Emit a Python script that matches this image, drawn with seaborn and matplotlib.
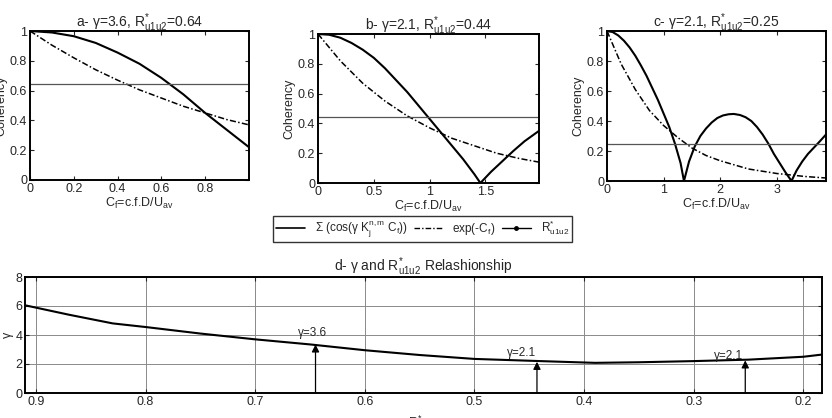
import matplotlib
matplotlib.use("Agg")
import matplotlib.pyplot as plt
import seaborn as sns
import pandas as pd
from matplotlib.lines import Line2D

# ---------------- data ----------------
a_cf_sum = [0.0, 0.1, 0.2, 0.3, 0.4, 0.5, 0.6, 0.7, 0.8, 0.9, 1.0]
a_sum = [1.0, 0.99, 0.965, 0.92, 0.855, 0.78, 0.685, 0.575, 0.45, 0.335, 0.22]
a_cf_exp = [0.0, 0.1, 0.2, 0.3, 0.4, 0.5, 0.6, 0.7, 0.8, 0.9, 1.0]
a_exp = [1.0, 0.905, 0.82, 0.74, 0.67, 0.605, 0.55, 0.495, 0.45, 0.405, 0.37]
a_r = 0.645

b_cf_sum = [0.0, 0.1, 0.2, 0.3, 0.4, 0.5, 0.6, 0.7, 0.8, 0.9, 1.0, 1.1, 1.2, 1.3, 1.4,
            1.455, 1.55, 1.65, 1.75, 1.85, 1.98]
b_sum = [1.0, 0.995, 0.975, 0.94, 0.895, 0.84, 0.77, 0.69, 0.61, 0.52, 0.43, 0.34, 0.25,
         0.16, 0.06, 0.0, 0.075, 0.145, 0.215, 0.28, 0.35]
b_cf_exp = [0.0, 0.2, 0.4, 0.6, 0.8, 1.0, 1.2, 1.4, 1.6, 1.8, 1.98]
b_exp = [1.0, 0.82, 0.67, 0.55, 0.45, 0.37, 0.30, 0.25, 0.20, 0.165, 0.14]
b_r = 0.44

c_cf_sum = [0.0, 0.1, 0.2, 0.3, 0.4, 0.5, 0.6, 0.7, 0.8, 0.9, 1.0, 1.1, 1.2, 1.3, 1.36,
            1.45, 1.55, 1.65, 1.75, 1.85, 1.95, 2.05, 2.15, 2.24, 2.35, 2.45, 2.55, 2.65,
            2.75, 2.85, 2.95, 3.05, 3.15, 3.26, 3.35, 3.45, 3.55, 3.65, 3.75, 3.87]
c_sum = [1.0, 0.993, 0.97, 0.935, 0.89, 0.835, 0.77, 0.70, 0.62, 0.54, 0.45, 0.36, 0.25,
         0.12, 0.0, 0.13, 0.23, 0.30, 0.35, 0.39, 0.42, 0.437, 0.445, 0.447, 0.44, 0.425,
         0.40, 0.36, 0.31, 0.25, 0.18, 0.12, 0.06, 0.0, 0.07, 0.13, 0.18, 0.22, 0.26, 0.31]
c_cf_exp = [0.0, 0.25, 0.5, 0.75, 1.0, 1.25, 1.5, 1.75, 2.0, 2.5, 3.0, 3.5, 3.87]
c_exp = [1.0, 0.78, 0.61, 0.47, 0.37, 0.29, 0.22, 0.17, 0.135, 0.08, 0.05, 0.03, 0.02]
c_r = 0.25

d_r = [0.91, 0.87, 0.83, 0.8, 0.75, 0.7, 0.65, 0.6, 0.55, 0.5, 0.44, 0.39, 0.35, 0.3, 0.25, 0.2, 0.183]
d_gamma = [6.05, 5.4, 4.8, 4.55, 4.1, 3.7, 3.35, 2.95, 2.62, 2.35, 2.2, 2.08, 2.12, 2.2, 2.3, 2.5, 2.65]
arrow_r = [0.645, 0.443, 0.253]
arrow_g = [3.35, 2.15, 2.25]
arrow_labels = ["γ=3.6", "γ=2.1", "γ=2.1"]
label_pos = [(0.648, 3.7), (0.457, 2.35), (0.268, 2.15)]

titles = ["a- γ=3.6, R$^{*}_{\\rm u1u2}$=0.64",
          "b- γ=2.1, R$^{*}_{\\rm u1u2}$=0.44",
          "c- γ=2.1, R$^{*}_{\\rm u1u2}$=0.25"]

# ---------------- style ----------------
sns.set_style("ticks")
plt.rcParams["font.family"] = ["Liberation Sans", "DejaVu Sans"]
plt.rcParams["mathtext.fontset"] = "custom"
plt.rcParams["mathtext.rm"] = "Liberation Sans"
plt.rcParams["mathtext.it"] = "Liberation Sans:italic"
plt.rcParams["font.size"] = 9

W, H = 832, 418
fig = plt.figure(figsize=(W / 100, H / 100), dpi=100)


def box(l, t, r, b):
    return [l / W, 1 - b / H, (r - l) / W, (b - t) / H]


panels = [
    (box(30, 31, 249, 180), a_cf_sum, a_sum, a_cf_exp, a_exp, a_r, 1.0, [0, 0.2, 0.4, 0.6, 0.8], ["0", "0.2", "0.4", "0.6", "0.8"]),
    (box(318, 34, 539, 183), b_cf_sum, b_sum, b_cf_exp, b_exp, b_r, 1.98, [0, 0.5, 1, 1.5], ["0", "0.5", "1", "1.5"]),
    (box(607, 31, 826, 181), c_cf_sum, c_sum, c_cf_exp, c_exp, c_r, 3.87, [0, 1, 2, 3], ["0", "1", "2", "3"]),
]

dashdot = (0, (4, 1.5, 1, 1.5))
for i, (pos, xs, ys, xe, ye, r, xmax, xt, xtl) in enumerate(panels):
    ax = fig.add_axes(pos)
    sns.lineplot(x=xs, y=ys, ax=ax, color="black", lw=1.5, estimator=None, sort=False)
    sns.lineplot(x=xe, y=ye, ax=ax, color="black", lw=1.1, estimator=None, sort=False,
                 linestyle=dashdot)
    ax.axhline(r, color="#555555", lw=0.9)
    ax.set_xlim(0, xmax)
    ax.set_ylim(0, 1)
    ax.set_xticks(xt)
    ax.set_xticklabels(xtl)
    ax.set_yticks([0, 0.2, 0.4, 0.6, 0.8, 1])
    ax.set_yticklabels(["0", "0.2", "0.4", "0.6", "0.8", "1"])
    ax.tick_params(direction="in", top=True, right=True, length=3, width=0.8,
                   labelsize=9, pad=2)
    for s in ax.spines.values():
        s.set_linewidth(1.4)
        s.set_color("black")
    ax.set_title(titles[i], fontsize=10, pad=3)
    ax.set_xlabel("C$_{\\rm f}$=c.f.D/U$_{\\rm av}$", fontsize=9, labelpad=1)
    ax.set_ylabel("Coherency", fontsize=9, labelpad=2)

# legend
handles = [
    Line2D([], [], color="black", lw=1.2),
    Line2D([], [], color="black", lw=1.0, linestyle=dashdot),
    Line2D([], [], color="black", lw=1.0, marker="o", markersize=2.5),
]
labels = ["Σ (cos(γ K$_{\\rm j}^{\\rm n,m}$ C$_{\\rm f}$))", "exp(-C$_{\\rm f}$)",
          "R$^{*}_{\\rm u1u2}$"]
leg = fig.legend(handles, labels, ncol=3, loc="center",
                 bbox_to_anchor=((277 + 568) / 2 / W, 1 - 229 / H),
                 fontsize=8.5, frameon=True, fancybox=False, edgecolor="black",
                 borderpad=0.25, handlelength=2.5, columnspacing=0.5,
                 handletextpad=0.8, borderaxespad=0)
leg.get_frame().set_linewidth(1.0)

# bottom panel
axd = fig.add_axes(box(25, 277, 822, 393))
sns.lineplot(x=d_r, y=d_gamma, ax=axd, color="black", lw=1.5, estimator=None, sort=False)
axd.set_xlim(0.91, 0.183)
axd.set_ylim(0, 8)
axd.set_xticks([0.9, 0.8, 0.7, 0.6, 0.5, 0.4, 0.3, 0.2])
axd.set_xticklabels(["0.9", "0.8", "0.7", "0.6", "0.5", "0.4", "0.3", "0.2"])
axd.set_yticks([0, 2, 4, 6, 8])
axd.set_yticklabels(["0", "2", "4", "6", "8"])
axd.grid(True, color="#8a8a8a", lw=0.7)
axd.set_axisbelow(True)
axd.tick_params(direction="in", top=True, right=True, length=3, width=0.8,
                labelsize=9, pad=2)
for s in axd.spines.values():
    s.set_linewidth(1.4)
    s.set_color("black")
for xr, yg, lab, (tx, ty) in zip(arrow_r, arrow_g, arrow_labels, label_pos):
    axd.annotate("", xy=(xr, yg), xytext=(xr, 0),
                 arrowprops=dict(arrowstyle="-|>", color="black", lw=0.9,
                                 mutation_scale=11, shrinkA=0, shrinkB=0))
    axd.text(tx, ty, lab, ha="center", va="bottom", fontsize=8.5)
axd.set_title("d- γ and R$^{*}_{\\rm u1u2}$ Relashionship", fontsize=10, pad=4)
axd.set_ylabel("γ", fontsize=9)
axd.yaxis.set_label_coords(-11 / 797, 0.5)
axd.set_xlabel("R$^{*}_{\\rm u1u2}$", fontsize=9, labelpad=4)

fig.savefig("out.png", dpi=100)
